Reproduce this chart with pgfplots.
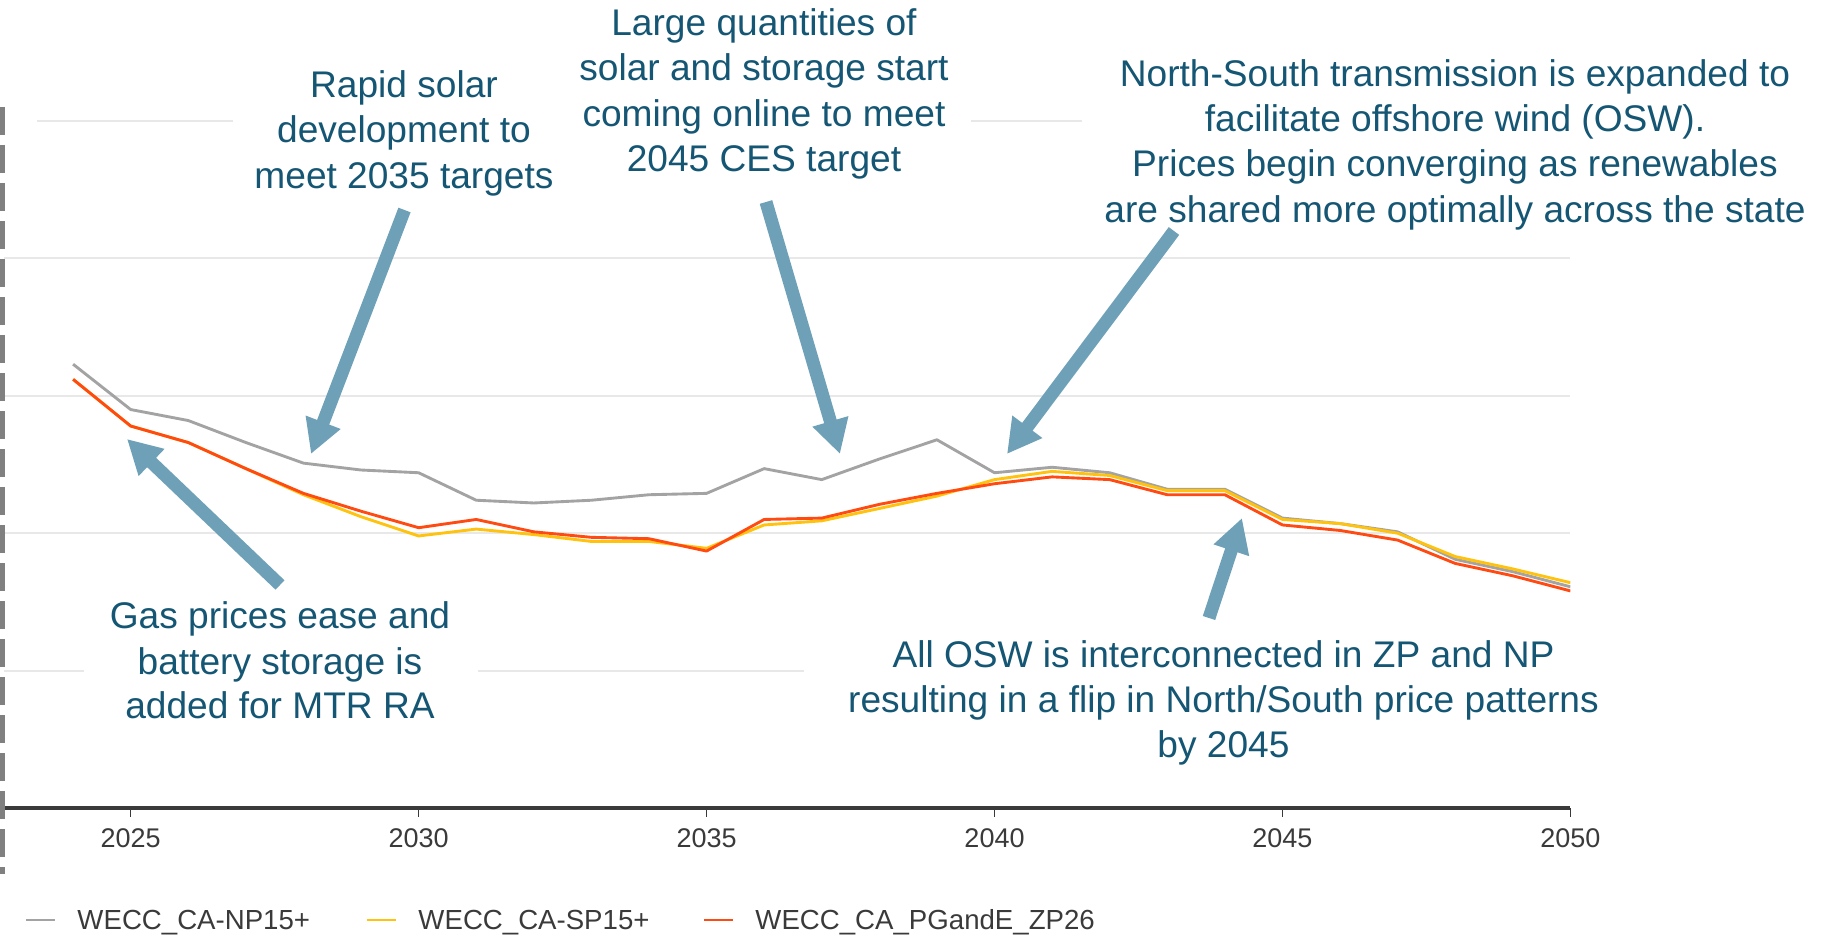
\documentclass[border=0pt]{standalone}
\usepackage{pgfplots}
\usepackage{pgfplotstable}
\pgfplotsset{compat=1.18}
\usepackage{fontspec}
\setmainfont{Liberation Sans}
\usetikzlibrary{arrows.meta}
\definecolor{npgray}{HTML}{A3A3A3}
\definecolor{spyellow}{HTML}{FFC20E}
\definecolor{zpred}{HTML}{FF4A12}
\definecolor{annot}{HTML}{145673}
\definecolor{arrowblue}{HTML}{6EA1B7}
\definecolor{gridc}{HTML}{E8E8E8}
\definecolor{tickc}{HTML}{3A3A3A}
\definecolor{dashc}{HTML}{808080}

\pgfplotstableread{
year np sp zp
2024 3.23 3.12 3.12
2025 2.90 2.78 2.78
2026 2.82 2.66 2.66
2027 2.66 2.47 2.47
2028 2.51 2.28 2.29
2029 2.46 2.12 2.16
2030 2.44 1.98 2.04
2031 2.24 2.03 2.10
2032 2.22 1.99 2.01
2033 2.24 1.94 1.97
2034 2.28 1.94 1.96
2035 2.29 1.89 1.87
2036 2.47 2.06 2.10
2037 2.39 2.09 2.11
2038 2.54 2.18 2.21
2039 2.68 2.27 2.29
2040 2.44 2.39 2.36
2041 2.48 2.45 2.41
2042 2.44 2.42 2.39
2043 2.32 2.31 2.28
2044 2.32 2.31 2.28
2045 2.11 2.10 2.06
2046 2.07 2.07 2.02
2047 2.01 2.00 1.95
2048 1.81 1.83 1.78
2049 1.72 1.74 1.69
2050 1.61 1.64 1.58
}\datatable

\newcommand{\annfont}{\fontsize{14.84}{18}\selectfont}
\newcommand{\legfont}{\fontsize{11.05}{13}\selectfont}

\begin{document}
\begin{tikzpicture}
\begin{axis}[
  at={(1.6pt,-323.2pt)}, anchor=south west,
  scale only axis, width=626.56pt, height=274.8pt,
  xmin=2022.8, xmax=2050, ymin=0, ymax=5,
  axis x line*=bottom, axis y line*=left,
  x axis line style={-, draw=tickc, line width=1.3pt},
  y axis line style={draw=none},
  xtick={2025,2030,2035,2040,2045,2050},
  ytick={1,2,3,4,5}, yticklabels={},
  ytick style={draw=none},
  xtick align=outside,
  major tick length=3.4pt,
  xtick style={draw=tickc, line width=0.6pt},
  ymajorgrids, grid style={gridc, line width=0.8pt},
  xticklabel style={text=tickc, font=\fontsize{10.8}{12}\selectfont, yshift=-1.4pt},
  /pgf/number format/assume math mode=true,
  /pgf/number format/1000 sep={},
  every axis plot/.append style={line width=1.15pt, line join=round, mark=none},
]
\addplot[npgray] table[x=year, y=np] {\datatable};
\addplot[spyellow] table[x=year, y=sp] {\datatable};
\addplot[zpred] table[x=year, y=zp] {\datatable};
\end{axis}

\begin{scope}[x=0.4pt, y=-0.4pt]
  % white boxes hiding gridlines behind annotations
  \fill[white] (0,110) rectangle (37,132);
  \fill[white] (233,50) rectangle (560,205);
  \fill[white] (560,0) rectangle (971,195);
  \fill[white] (1082,40) rectangle (1828,240);
  \fill[white] (84,595) rectangle (478,735);
  \fill[white] (804,632) rectangle (1620,775);

  % dashed left border
  \draw[dashc, line width=2.2pt, dash pattern=on 11.2pt off 4pt] (2.5,107) -- (2.5,874);

  % annotation texts
  \begin{scope}[every node/.style={anchor=base, inner sep=0pt, text=annot, font=\annfont}]
    \node at (404,97.3) {Rapid solar};
    \node at (404,142.7) {development to};
    \node at (404,188.3) {meet 2035 targets};

    \node at (764,35.5) {Large quantities of};
    \node at (764,80.8) {solar and storage start};
    \node at (764,126.1) {coming online to meet};
    \node at (764,171.4) {2045 CES target};

    \node at (1455,87) {North-South transmission is expanded to};
    \node at (1455,131.5) {facilitate offshore wind (OSW).};
    \node at (1455,177) {Prices begin converging as renewables};
    \node at (1455,222.5) {are shared more optimally across the state};

    \node at (280,629) {Gas prices ease and};
    \node at (280,674.5) {battery storage is};
    \node at (280,719) {added for MTR RA};

    \node at (1223.5,667.5) {All OSW is interconnected in ZP and NP};
    \node at (1223.5,713) {resulting in a flip in North/South price patterns};
    \node at (1223.5,758) {by 2045};
  \end{scope}

  % arrows
  \begin{scope}[arrowblue, line width=5.2pt, -{Triangle[length=13.6pt,width=14pt]}]
    \draw (404.5,210) -- (311,454);
    \draw (766,202) -- (840,454);
    \draw (1174,231) -- (1007,454);
    \draw (280,585) -- (127,439);
    \draw (1209,618) -- (1242,518);
  \end{scope}

  % legend
  \draw[npgray, line width=1.1pt] (26,920) -- (55,920);
  \draw[spyellow, line width=1.1pt] (367,920) -- (396,920);
  \draw[zpred, line width=1.1pt] (704,920) -- (733,920);
  \begin{scope}[every node/.style={anchor=base west, inner sep=0pt, text=tickc, font=\legfont}]
    \node at (77,930) {WECC\_CA-NP15+};
    \node at (418,930) {WECC\_CA-SP15+};
    \node at (755,930) {WECC\_CA\_PGandE\_ZP26};
  \end{scope}
\end{scope}

\pgfresetboundingbox
\path[use as bounding box] (0,0) rectangle (731.2pt,-374.8pt);
\end{tikzpicture}
\end{document}
